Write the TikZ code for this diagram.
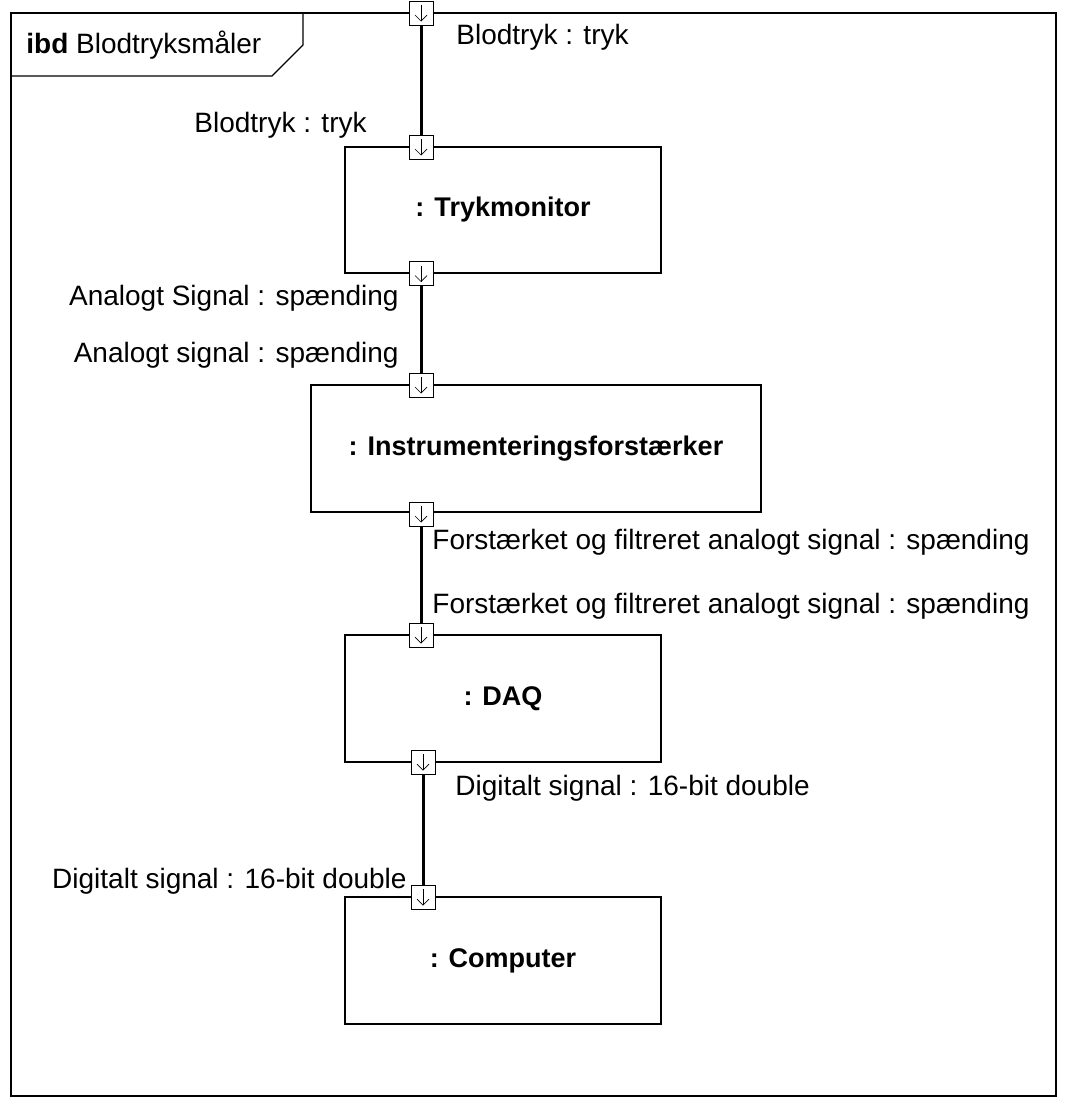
\documentclass[tikz,border=0pt]{standalone}
\usepackage{fontspec}
\setmainfont{Liberation Sans}
\begin{document}
\begin{tikzpicture}[x=0.5pt,y=-0.5pt,
  lbl/.style={inner sep=0pt,font=\fontsize{14}{17}\selectfont},
  part/.style={draw,line width=0.55pt,minimum width=158pt,minimum height=63pt,inner sep=0pt,font=\fontsize{13.5}{16}\selectfont\bfseries},
  port/.style={draw,fill=white,line width=0.5pt,minimum size=12pt,inner sep=0pt,
    path picture={\draw[line width=0.35pt] ([yshift=-2pt]path picture bounding box.north) -- ([yshift=2pt]path picture bounding box.south);
      \draw[line width=0.35pt] ([xshift=-3pt,yshift=5pt]path picture bounding box.south) -- ([yshift=2pt]path picture bounding box.south) -- ([xshift=3pt,yshift=5pt]path picture bounding box.south);}},
  conn/.style={line width=1.5pt}]
\useasboundingbox (0,0) rectangle (1070,1104);
% frame
\draw[line width=0.7pt] (11,13) rectangle (1056,1096);
\draw[line width=0.55pt] (11,76) -- (272,76) -- (303,45) -- (303,13);
\node[lbl,anchor=base west] (title) at (26,53) {\textbf{ibd} Blodtryksmåler};
% parts
\node[part] (tm) at (503,210) {: Trykmonitor};
\node[part,minimum width=225pt,minimum height=63.5pt] (ia) at (536,448.5) {: Instrumenteringsforstærker};
\node[part,minimum height=63.5pt] (daq) at (503,698.5) {: DAQ};
\node[part,minimum height=63.5pt] (pc) at (503,960.5) {: Computer};
% ports
\node[port] (p0) at (421,13) {};
\node[port] (p1) at (421,147) {};
\node[port] (p2) at (421,273.5) {};
\node[port] (p3) at (421,385) {};
\node[port] (p4) at (421,514) {};
\node[port] (p5) at (421,635) {};
\node[port] (p6) at (423,762) {};
\node[port] (p7) at (423,897) {};
% connectors
\draw[conn] (p0.south) -- (p1.north);
\draw[conn] (p2.south) -- (p3.north);
\draw[conn] (p4.south) -- (p5.north);
\draw[conn] (p6.south) -- (p7.north);
% labels
\node[lbl,anchor=base west] (l0) at (456,44) {Blodtryk : tryk};
\node[lbl,anchor=base east] (l1) at (367,132) {Blodtryk : tryk};
\node[lbl,anchor=base east] (l2) at (399,305) {Analogt Signal : spænding};
\node[lbl,anchor=base east] (l3) at (399,362) {Analogt signal : spænding};
\node[lbl,anchor=base west] (l4) at (432,549) {Forstærket og filtreret analogt signal : spænding};
\node[lbl,anchor=base west] (l5) at (432,613) {Forstærket og filtreret analogt signal : spænding};
\node[lbl,anchor=base west] (l6) at (455,795) {Digitalt signal : 16-bit double};
\node[lbl,anchor=base east] (l7) at (407,888) {Digitalt signal : 16-bit double};
\end{tikzpicture}
\end{document}
